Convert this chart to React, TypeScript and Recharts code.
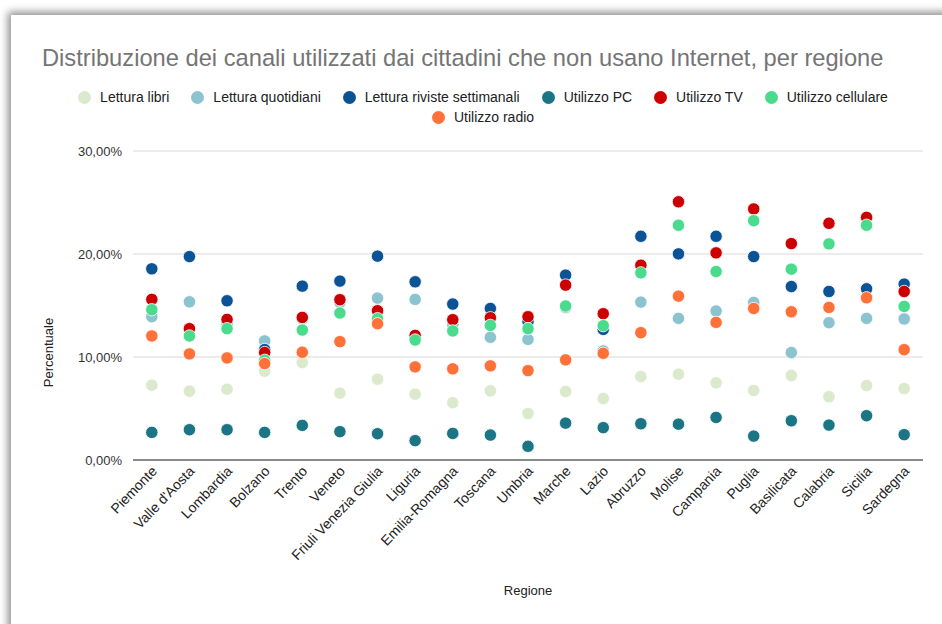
import React from 'react';
import { ComposedChart, Line, XAxis, YAxis, CartesianGrid, Legend } from 'recharts';

// Regions on the category axis
const regioni = [
  'Piemonte', "Valle d'Aosta", 'Lombardia', 'Bolzano', 'Trento', 'Veneto',
  'Friuli Venezia Giulia', 'Liguria', 'Emilia-Romagna', 'Toscana', 'Umbria',
  'Marche', 'Lazio', 'Abruzzo', 'Molise', 'Campania', 'Puglia', 'Basilicata',
  'Calabria', 'Sicilia', 'Sardegna',
];

// Percent values per channel, one per region
const letturaLibri = [7.26, 6.68, 6.87, 8.62, 9.46, 6.49, 7.84, 6.39, 5.56, 6.72, 4.52, 6.65, 5.97, 8.1, 8.33, 7.49, 6.75, 8.2, 6.14, 7.23, 6.94];
const letturaQuotidiani = [13.91, 15.36, 13.14, 11.56, 13.7, 15.3, 15.72, 15.59, 13.14, 11.91, 11.71, 14.8, 10.59, 15.33, 13.75, 14.46, 15.3, 10.43, 13.33, 13.75, 13.69];
const letturaRiviste = [18.56, 19.75, 15.46, 10.72, 16.88, 17.37, 19.79, 17.3, 15.14, 14.71, 13.43, 17.95, 12.68, 21.72, 20.01, 21.72, 19.75, 16.84, 16.36, 16.62, 17.08];
const utilizzoPC = [2.68, 2.94, 2.94, 2.68, 3.36, 2.75, 2.55, 1.88, 2.58, 2.42, 1.33, 3.58, 3.14, 3.52, 3.48, 4.13, 2.32, 3.81, 3.39, 4.3, 2.46];
const utilizzoTV = [15.59, 12.75, 13.65, 10.43, 13.84, 15.56, 14.49, 12.1, 13.62, 13.81, 13.91, 16.98, 14.2, 18.91, 25.07, 20.11, 24.37, 21.01, 22.98, 23.56, 16.36];
const utilizzoCellulare = [14.59, 12.04, 12.75, 9.68, 12.62, 14.27, 13.72, 11.65, 12.53, 13.07, 12.75, 14.95, 13.04, 18.17, 22.79, 18.3, 23.23, 18.53, 20.98, 22.79, 14.91];
const utilizzoRadio = [12.04, 10.3, 9.91, 9.36, 10.46, 11.49, 13.23, 9.04, 8.85, 9.14, 8.68, 9.72, 10.36, 12.36, 15.91, 13.36, 14.71, 14.39, 14.81, 15.75, 10.71];

const yTicks = [0, 10, 20, 30];

const serie = [
  { key: 'libri', name: 'Lettura libri', color: '#dbe9cc', values: letturaLibri },
  { key: 'quotidiani', name: 'Lettura quotidiani', color: '#8bc3cf', values: letturaQuotidiani },
  { key: 'riviste', name: 'Lettura riviste settimanali', color: '#0c5396', values: letturaRiviste },
  { key: 'pc', name: 'Utilizzo PC', color: '#1b7584', values: utilizzoPC },
  { key: 'tv', name: 'Utilizzo TV', color: '#cc0000', values: utilizzoTV },
  { key: 'cellulare', name: 'Utilizzo cellulare', color: '#4bdb8c', values: utilizzoCellulare },
  { key: 'radio', name: 'Utilizzo radio', color: '#ff7139', values: utilizzoRadio },
];

const data = regioni.map((regione, i) => {
  const row: Record<string, string | number> = { regione };
  serie.forEach((s) => {
    row[s.key] = s.values[i];
  });
  return row;
});

const FONT = '"Liberation Sans", Arial, Helvetica, sans-serif';

const formatPct = (v: number) => v.toFixed(2).replace('.', ',') + '%';

const XTick = (props: any) => {
  const { x, y, payload } = props;
  const ax = x + 6;
  const ay = y + 10;
  return (
    <text
      x={ax}
      y={ay}
      transform={`rotate(-46, ${ax}, ${ay})`}
      textAnchor="end"
      fontSize={14}
      fill="#222222"
      fontFamily={FONT}
    >
      {payload.value}
    </text>
  );
};

const YLabel = (props: any) => {
  const { viewBox } = props;
  const cx = viewBox.x + 48;
  const cy = viewBox.y + viewBox.height / 2 + 47;
  return (
    <text
      x={cx}
      y={cy}
      transform={`rotate(-90, ${cx}, ${cy})`}
      textAnchor="middle"
      dominantBaseline="central"
      fontSize={13}
      fill="#222222"
      fontFamily={FONT}
    >
      Percentuale
    </text>
  );
};

const LegendContent = () => (
  <div
    style={{
      display: 'flex',
      flexWrap: 'wrap',
      justifyContent: 'center',
      width: 860,
      margin: '0 auto',
      rowGap: 4,
      fontFamily: FONT,
      fontSize: 14,
      color: '#222222',
    }}
  >
    {serie.map((s) => (
      <div key={s.key} style={{ display: 'flex', alignItems: 'center', margin: '0 11px', height: 16 }}>
        <span
          style={{
            display: 'inline-block',
            width: 13,
            height: 13,
            borderRadius: '50%',
            background: s.color,
            marginRight: 9,
          }}
        />
        <span>{s.name}</span>
      </div>
    ))}
  </div>
);

export default function App() {
  return (
    <div
      style={{
        position: 'fixed',
        left: 0,
        top: 0,
        width: 942,
        height: 624,
        overflow: 'hidden',
        background: '#ffffff',
        fontFamily: FONT,
      }}
    >
      <div
        style={{
          position: 'absolute',
          left: 11,
          top: 15,
          width: 1000,
          height: 700,
          background: '#ffffff',
          boxShadow: '-3px -3px 8px rgba(0,0,0,0.45)',
        }}
      />
      <div
        style={{
          position: 'absolute',
          left: 42,
          top: 44,
          fontSize: 23.7,
          color: '#757575',
          whiteSpace: 'nowrap',
          lineHeight: '28px',
        }}
      >
        Distribuzione dei canali utilizzati dai cittadini che non usano Internet, per regione
      </div>
      <div style={{ position: 'absolute', left: 0, top: 0 }}>
        <ComposedChart
          width={942}
          height={624}
          data={data}
          margin={{ top: 151, right: 19, bottom: 0, left: 0 }}
        >
          <CartesianGrid vertical={false} stroke="#d9d9d9" strokeWidth={1} />
          <XAxis
            dataKey="regione"
            type="category"
            scale="band"
            interval={0}
            height={164}
            tickLine={false}
            tickSize={0}
            axisLine={{ stroke: '#8a8a8a', strokeWidth: 2 }}
            tick={<XTick />}
            label={{
              value: 'Regione',
              position: 'insideBottom',
              offset: 29,
              fontSize: 13,
              fill: '#222222',
              fontFamily: FONT,
            }}
          />
          <YAxis
            width={133}
            domain={[0, 30]}
            ticks={yTicks}
            tickFormatter={formatPct}
            axisLine={false}
            tickLine={false}
            tickMargin={5}
            tick={{ fontSize: 13, fill: '#333333', fontFamily: FONT }}
            label={<YLabel />}
          />
          <Legend
            layout="horizontal"
            verticalAlign="middle"
            align="center"
            content={<LegendContent />}
            wrapperStyle={{ position: 'absolute', top: 89, left: 0, width: 966, height: 40 }}
          />
          {serie.map((s) => (
            <Line
              key={s.key}
              dataKey={s.key}
              name={s.name}
              stroke="none"
              isAnimationActive={false}
              activeDot={false}
              dot={{ r: 6.2, fill: s.color, stroke: '#ffffff', strokeWidth: 0.8 }}
              legendType="circle"
            />
          ))}
        </ComposedChart>
      </div>
    </div>
  );
}
